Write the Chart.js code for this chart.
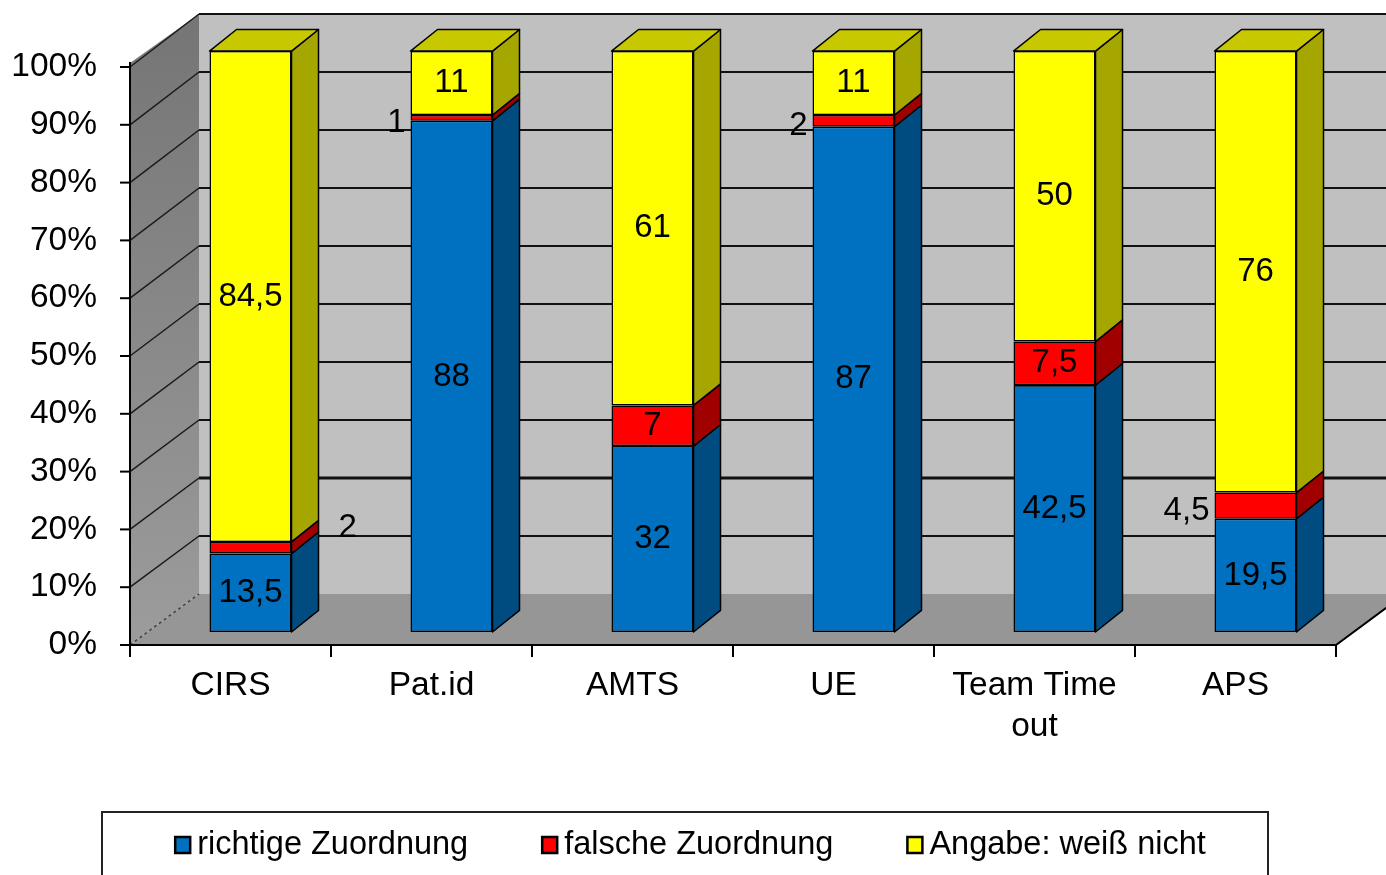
<!DOCTYPE html>
<html>
<head>
<meta charset="utf-8">
<script src="https://cdn.jsdelivr.net/npm/chart.js@4.4.1/dist/chart.umd.min.js"></script>
<style>
  html, body { margin: 0; padding: 0; background: #fff; }
</style>
</head>
<body>
<canvas id="myChart" width="1386" height="875"></canvas>
<script>
const categories = ['CIRS', 'Pat.id', 'AMTS', 'UE', ['Team Time', 'out'], 'APS'];
const richtig = [13.5, 88, 32, 87, 42.5, 19.5];
const falsch = [2, 1, 7, 2, 7.5, 4.5];
const weissNicht = [84.5, 11, 61, 11, 50, 76];
const seriesNames = ['richtige Zuordnung', 'falsche Zuordnung', 'Angabe: weiß nicht'];
const yTicks = [0, 10, 20, 30, 40, 50, 60, 70, 80, 90, 100];
// small red values are written beside the bar, not on it
const falschLabelSide = ['right', 'left', 'in', 'left', 'in', 'left'];

const FONT = "'Liberation Sans', Arial, sans-serif";
Chart.defaults.font.family = FONT;
Chart.defaults.font.size = 33.5;
Chart.defaults.color = '#000';

const frontCol = ['#0070C0', '#FF0000', '#FFFF00'];
const sideCol = ['#004B80', '#A00000', '#A6A600'];
const topCol = '#C8C800';

// 3d look: wall depth and bar depth
const WALL_DX = 69, WALL_DY = -51;
const BAR_SHIFT_X = 20, BAR_SHIFT_Y = -13, BAR_SCALE = 1.005;
const BAR_DX = 27, BAR_DY = -21.5;

const fmt = v => String(v).replace('.', ',');

const threeD = {
  id: 'threeD',
  beforeDatasetsDraw(chart) {
    const ctx = chart.ctx;
    const a = chart.chartArea;
    const y = chart.scales.y;
    const L = a.left, R = a.right, B = a.bottom;
    const backY = v => B + WALL_DY + (y.getPixelForValue(v) - B) * (580 / 578);
    const topBack = backY(100);

    ctx.save();
    // back wall
    ctx.fillStyle = '#C0C0C0';
    ctx.fillRect(L + WALL_DX, topBack, 1386, B + WALL_DY - topBack);
    // left wall
    const g = ctx.createLinearGradient(0, topBack, 0, B);
    g.addColorStop(0, '#757575');
    g.addColorStop(1, '#9c9c9c');
    ctx.fillStyle = g;
    ctx.beginPath();
    ctx.moveTo(L, B);
    ctx.lineTo(L, y.getPixelForValue(100) - 4);
    ctx.lineTo(L + WALL_DX, topBack);
    ctx.lineTo(L + WALL_DX, B + WALL_DY);
    ctx.closePath();
    ctx.fill();
    // floor
    ctx.fillStyle = '#969696';
    ctx.beginPath();
    ctx.moveTo(L, B);
    ctx.lineTo(R, B);
    ctx.lineTo(R + WALL_DX, B + WALL_DY);
    ctx.lineTo(L + WALL_DX, B + WALL_DY);
    ctx.closePath();
    ctx.fill();

    // grid lines
    yTicks.forEach(v => {
      const fy = y.getPixelForValue(v);
      const by = backY(v);
      if (v > 0) {
        ctx.strokeStyle = '#111';
        ctx.lineWidth = v === 20 ? 3 : 2;
        ctx.beginPath();
        ctx.moveTo(L + WALL_DX, by);
        ctx.lineTo(1386, by);
        ctx.stroke();
      }
      ctx.strokeStyle = v === 0 ? '#444' : '#1a1a1a';
      ctx.lineWidth = 1.5;
      ctx.setLineDash(v === 0 ? [3, 3] : []);
      ctx.beginPath();
      ctx.moveTo(L, fy);
      ctx.lineTo(L + WALL_DX, by);
      ctx.stroke();
      ctx.setLineDash([]);
    });

    // axes
    ctx.strokeStyle = '#000';
    ctx.lineWidth = 2;
    ctx.beginPath();
    ctx.moveTo(L, y.getPixelForValue(100) - 5);
    ctx.lineTo(L, B);
    ctx.lineTo(R, B);
    ctx.lineTo(R + WALL_DX, B + WALL_DY);
    ctx.stroke();
    yTicks.forEach(v => {
      const fy = y.getPixelForValue(v);
      ctx.beginPath();
      ctx.moveTo(L - 10, fy);
      ctx.lineTo(L, fy);
      ctx.stroke();
    });
    for (let i = 0; i <= categories.length; i++) {
      const px = L + (R - L) * i / categories.length;
      ctx.beginPath();
      ctx.moveTo(px, B);
      ctx.lineTo(px, B + 12);
      ctx.stroke();
    }
    ctx.restore();

    // bars sit a bit behind the front axis
    ctx.save();
    ctx.translate(BAR_SHIFT_X, B + BAR_SHIFT_Y);
    ctx.scale(1, BAR_SCALE);
    ctx.translate(0, -B);
  },
  afterDatasetsDraw(chart) {
    const ctx = chart.ctx;
    const n = chart.data.datasets.length;
    ctx.lineWidth = 1.5;
    ctx.strokeStyle = '#000';
    ctx.lineJoin = 'round';
    for (let d = 0; d < n; d++) {
      const meta = chart.getDatasetMeta(d);
      meta.data.forEach((bar, j) => {
        const p = bar.getProps(['x', 'y', 'base', 'width'], true);
        const l = p.x - p.width / 2, r = p.x + p.width / 2;
        // side face
        ctx.fillStyle = sideCol[d];
        ctx.beginPath();
        ctx.moveTo(r, p.base);
        ctx.lineTo(r, p.y);
        ctx.lineTo(r + BAR_DX, p.y + BAR_DY);
        ctx.lineTo(r + BAR_DX, p.base + BAR_DY);
        ctx.closePath();
        ctx.fill();
        ctx.stroke();
        if (d === n - 1) {
          ctx.fillStyle = topCol;
          ctx.beginPath();
          ctx.moveTo(l, p.y);
          ctx.lineTo(l + BAR_DX, p.y + BAR_DY);
          ctx.lineTo(r + BAR_DX, p.y + BAR_DY);
          ctx.lineTo(r, p.y);
          ctx.closePath();
          ctx.fill();
          ctx.stroke();
        }
      });
    }
    // value labels
    ctx.fillStyle = '#000';
    ctx.font = '33px ' + FONT;
    ctx.textBaseline = 'middle';
    for (let d = 0; d < n; d++) {
      const meta = chart.getDatasetMeta(d);
      const vals = chart.data.datasets[d].data;
      meta.data.forEach((bar, j) => {
        const p = bar.getProps(['x', 'y', 'base', 'width'], true);
        const mid = (p.y + p.base) / 2;
        const side = d === 1 ? falschLabelSide[j] : 'in';
        const txt = fmt(vals[j]);
        if (side === 'in') {
          ctx.textAlign = 'center';
          ctx.fillText(txt, p.x, mid);
        } else if (side === 'left') {
          ctx.textAlign = 'right';
          ctx.fillText(txt, p.x - p.width / 2 - 5, mid + 5);
        } else {
          ctx.textAlign = 'left';
          ctx.fillText(txt, p.x + p.width / 2 + BAR_DX + 20, mid - 20);
        }
      });
    }
    ctx.restore();
  },
  afterDraw(chart) {
    const ctx = chart.ctx;
    ctx.save();
    // legend box
    ctx.strokeStyle = '#222';
    ctx.lineWidth = 2;
    ctx.strokeRect(102, 812, 1166, 80);
    ctx.font = '32.5px ' + FONT;
    ctx.textBaseline = 'middle';
    ctx.textAlign = 'left';
    const gap = 74, box = 15, boxGap = 7;
    const widths = seriesNames.map(s => ctx.measureText(s).width);
    const total = widths.reduce((s, w) => s + w + box + boxGap, 0) + gap * (seriesNames.length - 1);
    let lx = 690.5 - total / 2;
    const ly = 845;
    seriesNames.forEach((s, i) => {
      ctx.fillStyle = frontCol[i];
      ctx.fillRect(lx, ly - 8, box, 16);
      ctx.strokeStyle = '#000';
      ctx.lineWidth = 2.5;
      ctx.strokeRect(lx, ly - 8, box, 16);
      ctx.fillStyle = '#000';
      ctx.fillText(s, lx + box + boxGap, ly);
      lx += box + boxGap + widths[i] + gap;
    });
    ctx.restore();
  }
};

const ctx = document.getElementById('myChart').getContext('2d');
const myChart = new Chart(ctx, {
  type: 'bar',
  data: {
    labels: categories,
    datasets: [
      { label: seriesNames[0], data: richtig, backgroundColor: frontCol[0] },
      { label: seriesNames[1], data: falsch, backgroundColor: frontCol[1] },
      { label: seriesNames[2], data: weissNicht, backgroundColor: frontCol[2] }
    ]
  },
  options: {
    responsive: false,
    animation: false,
    devicePixelRatio: 1,
    layout: { padding: { top: 67, right: 50, left: 0, bottom: 0 } },
    datasets: {
      bar: {
        categoryPercentage: 1,
        barPercentage: 0.408,
        borderColor: '#000',
        borderWidth: 1.5,
        borderSkipped: false,
        clip: false
      }
    },
    plugins: {
      legend: { display: false },
      tooltip: { enabled: false }
    },
    scales: {
      x: {
        stacked: true,
        grid: { display: false, drawTicks: false },
        border: { display: false },
        ticks: { padding: 21, font: { size: 33.5, lineHeight: 1.2 }, maxRotation: 0, autoSkip: false },
        afterFit: s => { s.height = 230; }
      },
      y: {
        stacked: true,
        min: 0,
        max: 100,
        grid: { display: false, drawTicks: false },
        border: { display: false },
        ticks: { stepSize: 10, padding: 33, callback: v => v + '%' },
        afterFit: s => { s.width = 130; }
      }
    }
  },
  plugins: [threeD]
});
</script>
</body>
</html>
